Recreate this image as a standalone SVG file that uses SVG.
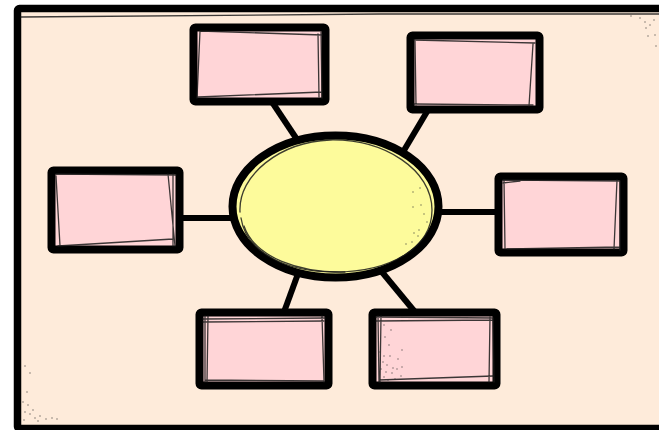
<svg xmlns="http://www.w3.org/2000/svg" width="659" height="430" viewBox="0 0 659 430">
  <style>
    .frame { fill: #FEEBDA; stroke: #000; stroke-width: 7.5; stroke-linejoin: round; }
    .box { fill: #FFD5D7; stroke: #000; stroke-width: 8; stroke-linejoin: round; }
    .hub { fill: #FDFB9B; stroke: #000; stroke-width: 8; }
    .sketch { fill: none; stroke: #1a1a1a; stroke-width: 1.3; stroke-linecap: round; opacity: 0.85; }
    .link { stroke: #000; stroke-width: 6; stroke-linecap: butt; }
    .dots circle { fill: #333; opacity: 0.6; }
  </style>

  <rect x="0" y="0" width="659" height="430" fill="#FFFFFF"/>

  <!-- page frame -->
  <g id="frame">
    <rect class="frame" x="17.5" y="8.5" width="660" height="420" rx="2"/>
    <path class="sketch" d="M21 17 L380 14 L659 14"/>
    <g class="dots">
      <circle cx="25" cy="366" r="0.8"/><circle cx="30" cy="373" r="0.8"/><circle cx="27" cy="392" r="0.8"/>
      <circle cx="23" cy="402" r="0.8"/><circle cx="28" cy="405" r="0.8"/><circle cx="25" cy="412" r="0.8"/>
      <circle cx="30" cy="414" r="0.8"/><circle cx="35" cy="418" r="0.8"/><circle cx="40" cy="416" r="0.8"/>
      <circle cx="46" cy="419" r="0.8"/><circle cx="52" cy="418" r="0.8"/><circle cx="57" cy="419" r="0.8"/>
      <circle cx="33" cy="410" r="0.8"/><circle cx="38" cy="421" r="0.8"/><circle cx="24" cy="420" r="0.8"/>
      <circle cx="631" cy="16" r="0.8"/><circle cx="640" cy="18" r="0.8"/><circle cx="645" cy="22" r="0.8"/>
      <circle cx="650" cy="25" r="0.8"/><circle cx="654" cy="20" r="0.8"/><circle cx="646" cy="28" r="0.8"/>
      <circle cx="655" cy="35" r="0.8"/><circle cx="648" cy="36" r="0.8"/><circle cx="656" cy="46" r="0.8"/>
    </g>
  </g>

  <!-- connectors from the hub to each box -->
  <g id="connectors">
    <line class="link" x1="272" y1="102" x2="298" y2="141"/>
    <line class="link" x1="428" y1="110" x2="403" y2="152"/>
    <line class="link" x1="180" y1="218" x2="233" y2="218"/>
    <line class="link" x1="438" y1="212" x2="498" y2="212"/>
    <line class="link" x1="299" y1="271" x2="284" y2="312"/>
    <line class="link" x1="377" y1="266" x2="415" y2="312"/>
  </g>

  <!-- central hub -->
  <g id="hub">
    <ellipse class="hub" cx="335.5" cy="206.5" rx="103" ry="71"/>
    <path class="sketch" d="M240 212 C238 175 280 142 330 140 C385 139 432 170 432 210 C432 248 390 272 335 272 C285 272 246 252 241 218"/>
    <path class="sketch" d="M244 226 C255 258 300 273 345 272"/>
    <g class="dots">
      <circle cx="413" cy="192" r="0.8"/><circle cx="420" cy="188" r="0.8"/><circle cx="421" cy="205" r="0.8"/>
      <circle cx="413" cy="207" r="0.8"/><circle cx="424" cy="214" r="0.8"/><circle cx="427" cy="222" r="0.8"/>
      <circle cx="419" cy="230" r="0.8"/><circle cx="414" cy="233" r="0.8"/><circle cx="418" cy="236" r="0.8"/>
      <circle cx="412" cy="242" r="0.8"/><circle cx="406" cy="244" r="0.8"/>
    </g>
  </g>

  <!-- boxes -->
  <g id="box-top-left">
    <rect class="box" x="193.5" y="27.5" width="132" height="74" rx="2"/>
    <path class="sketch" d="M200 31 L322 35 M200 31 L197 98 M198 97 L322 92 M321 32 L322 98 M318 34 L319 97"/>
  </g>

  <g id="box-top-right">
    <rect class="box" x="410.5" y="35.5" width="129" height="74" rx="2"/>
    <path class="sketch" d="M414 40 L535 43 M415 40 L416 105 M414 104 L533 105 M533 44 L529 106"/>
  </g>

  <g id="box-left">
    <rect class="box" x="51.5" y="170.5" width="128" height="79" rx="2"/>
    <path class="sketch" d="M56 174 L176 175 M56 176 L60 246 M58 246 L173 239 M168 174 L175 246 M173 174 L173 246"/>
  </g>

  <g id="box-right">
    <rect class="box" x="498.5" y="176.5" width="125" height="76" rx="2"/>
    <path class="sketch" d="M503 180 L620 181 M503 183 L520 181 M504 180 L505 249 M507 249 L620 247 M617 180 L614 249 M620 181 L620 250"/>
  </g>

  <g id="box-bottom-left">
    <rect class="box" x="199.5" y="312.5" width="129" height="73" rx="2"/>
    <path class="sketch" d="M203 319 L325 318 M203 322 L324 321 M205 316 L205 382 M208 316 L207 382 M205 380 L324 381 M322 316 L324 382"/>
  </g>

  <g id="box-bottom-right">
    <rect class="box" x="372.5" y="312.5" width="124" height="73" rx="2"/>
    <path class="sketch" d="M376 317 L493 318 M376 321 L493 320 M378 316 L379 382 M381 316 L380 382 M379 380 L493 376 M490 317 L489 382 M493 318 L494 382"/>
    <g class="dots">
      <circle cx="384" cy="325" r="0.8"/><circle cx="391" cy="330" r="0.8"/><circle cx="385" cy="337" r="0.8"/>
      <circle cx="389" cy="345" r="0.8"/><circle cx="402" cy="350" r="0.8"/><circle cx="380" cy="352" r="0.8"/>
      <circle cx="384" cy="356" r="0.8"/><circle cx="390" cy="356" r="0.8"/><circle cx="398" cy="359" r="0.8"/>
      <circle cx="383" cy="362" r="0.8"/><circle cx="387" cy="365" r="0.8"/><circle cx="393" cy="368" r="0.8"/>
      <circle cx="381" cy="369" r="0.8"/><circle cx="386" cy="372" r="0.8"/><circle cx="392" cy="373" r="0.8"/>
      <circle cx="397" cy="369" r="0.8"/><circle cx="401" cy="376" r="0.8"/><circle cx="384" cy="377" r="0.8"/>
      <circle cx="388" cy="380" r="0.8"/><circle cx="395" cy="379" r="0.8"/><circle cx="402" cy="367" r="0.8"/>
    </g>
  </g>
</svg>
